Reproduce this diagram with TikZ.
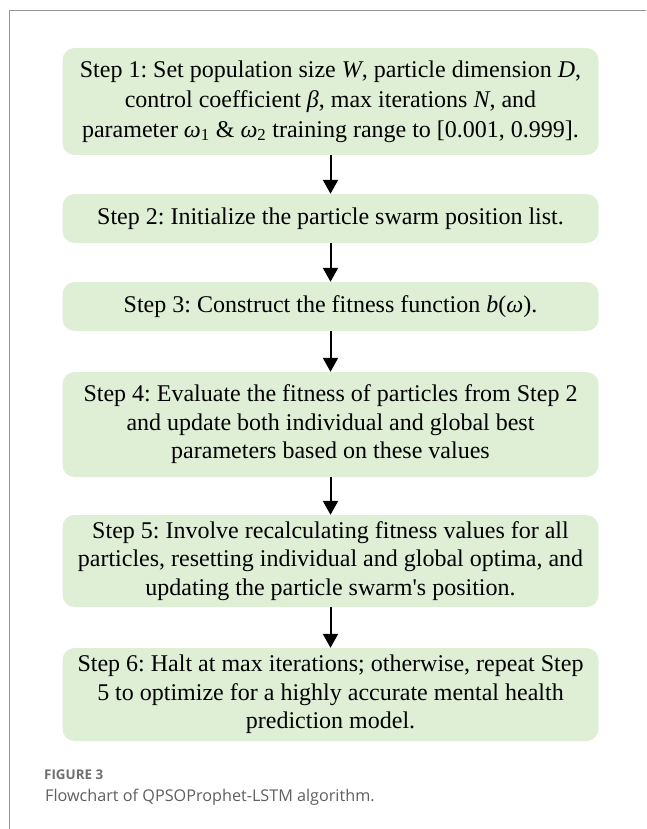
\documentclass[tikz,border=0pt]{standalone}
\usepackage{fontspec}
\setmainfont{Liberation Serif}
\newfontfamily\capfont{Open Sans}
\usetikzlibrary{arrows.meta}
\definecolor{boxgreen}{RGB}{222,239,214}
\definecolor{framegray}{RGB}{150,150,150}
\definecolor{capgray}{RGB}{95,95,95}
\definecolor{figgray}{RGB}{110,110,110}
\tikzset{
  stepbox/.style={fill=boxgreen, draw=none, rounded corners=12pt, minimum width=536pt,
    align=center, inner sep=0pt,
    font=\fontsize{24}{28.5}\selectfont},
  flowarrow/.style={-{Triangle[width=15pt,length=14pt]}, line width=2pt, black}
}
\newcommand{\mi}[1]{\textit{#1}}
\frenchspacing
\begin{document}
\begin{tikzpicture}[x=1pt,y=-1pt]
\useasboundingbox (0,0) rectangle (646,829);
\draw[framegray, line width=1pt] (9,829) -- (9,11) -- (646,11);
\node[stepbox, minimum height=107pt, font=\fontsize{24}{30}\selectfont] (s1) at (330.5,101.5)
  {Step 1: Set population size \mi{W}, particle dimension \mi{D},\\
   control coefficient \mi{β}, max iterations \mi{N}, and\\
   parameter \mi{ω}\textsubscript{1} \& \mi{ω}\textsubscript{2} training range to [0.001, 0.999].};
\node[stepbox, minimum height=49pt] (s2) at (330.5,218.5)
  {Step 2: Initialize the particle swarm position list.};
\node[stepbox, minimum height=49pt] (s3) at (330.5,306.5)
  {Step 3: Construct the fitness function \mi{b}(\mi{ω}).};
\node[stepbox, minimum height=105pt] (s4) at (330.5,424.5)
  {Step 4: Evaluate the fitness of particles from Step 2\\
   and update both individual and global best\\
   parameters based on these values};
\node[stepbox, minimum height=92pt] (s5) at (330.5,561)
  {Step 5: Involve recalculating fitness values for all\\
   particles, resetting individual and global optima, and\\
   updating the particle swarm\textquotesingle s position.};
\node[stepbox, minimum height=93pt] (s6) at (330.5,694.5)
  {Step 6: Halt at max iterations; otherwise, repeat Step\\
   5 to optimize for a highly accurate mental health\\
   prediction model.};
\draw[flowarrow] (s1.south) -- (s2.north);
\draw[flowarrow] (s2.south) -- (s3.north);
\draw[flowarrow] (s3.south) -- (s4.north);
\draw[flowarrow] (s4.south) -- (s5.north);
\draw[flowarrow] (s5.south) -- (s6.north);
\node[anchor=base west, inner sep=0pt, text=figgray, font=\capfont\bfseries\fontsize{13.4}{15}\selectfont] (fig) at (44,779) {FIGURE 3};
\node[anchor=base west, inner sep=0pt, text=capgray, font=\capfont\fontsize{16.2}{20}\selectfont] (cap) at (45,801) {Flowchart of QPSOProphet-LSTM algorithm.};
\end{tikzpicture}
\end{document}
